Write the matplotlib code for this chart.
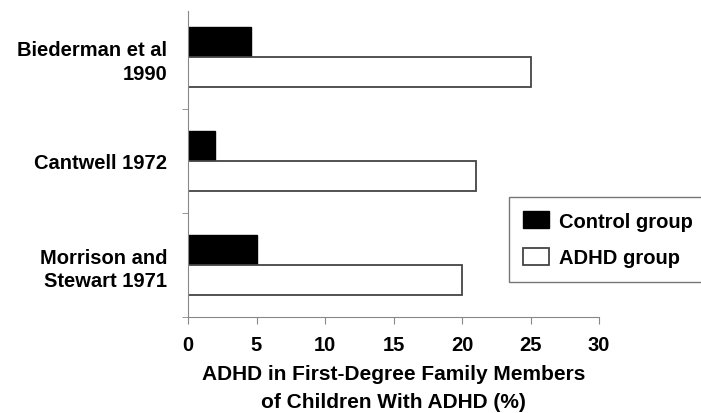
import numpy as np
import matplotlib.pyplot as plt

plt.rcParams['font.family'] = ['Liberation Sans', 'DejaVu Sans']
plt.rcParams['font.weight'] = 'bold'

studies = ['Biederman et al\n1990', 'Cantwell 1972', 'Morrison and\nStewart 1971']
control = [4.6, 2, 5]
adhd = [25, 21, 20]

fs = 14.5
fig = plt.figure(figsize=(7.01, 4.14), dpi=100)
ax = fig.add_axes([188 / 701, 1 - 318 / 414, 411 / 701, 312 / 414])

y = np.arange(len(studies))
h = 0.285
ax.barh(y - h / 2, control, height=h, color='black', edgecolor='black', linewidth=1, label='Control group')
ax.barh(y + h / 2, adhd, height=h, color='white', edgecolor='#444444', linewidth=1.3, label='ADHD group')

ax.set_xlim(0, 30)
ax.set_ylim(2.5, -0.5)
ax.set_xticks(np.arange(0, 31, 5))
ax.set_yticks(y)
ax.set_yticklabels(studies, fontsize=fs, fontweight='bold', ha='right', linespacing=1.3)
ax.set_yticks([0.5, 1.5, 2.5], minor=True)
ax.tick_params(axis='y', which='major', length=0, pad=15)
ax.tick_params(axis='y', which='minor', length=4, color='#888888')
ax.tick_params(axis='x', length=5, color='#888888', labelsize=fs, pad=8)
for t in ax.get_xticklabels():
    t.set_fontweight('bold')

for s in ['top', 'right']:
    ax.spines[s].set_visible(False)
for s in ['left', 'bottom']:
    ax.spines[s].set_color('#888888')
ax.spines['left'].set_bounds(2.5, -0.44)

ax.set_xlabel('ADHD in First-Degree Family Members\nof Children With ADHD (%)',
              fontsize=15, fontweight='bold', labelpad=7, linespacing=1.6)

leg = fig.legend(loc='upper left', bbox_to_anchor=(509 / 701, 1 - 198 / 414),
                 borderaxespad=0, frameon=True, fancybox=False, edgecolor='#555555',
                 fontsize=fs, handlelength=1.3, handleheight=0.95, handletextpad=0.5,
                 borderpad=0.7, labelspacing=0.85)
leg.get_frame().set_linewidth(1.0)
for t in leg.get_texts():
    t.set_fontweight('bold')

plt.savefig('out.png', dpi=100)
